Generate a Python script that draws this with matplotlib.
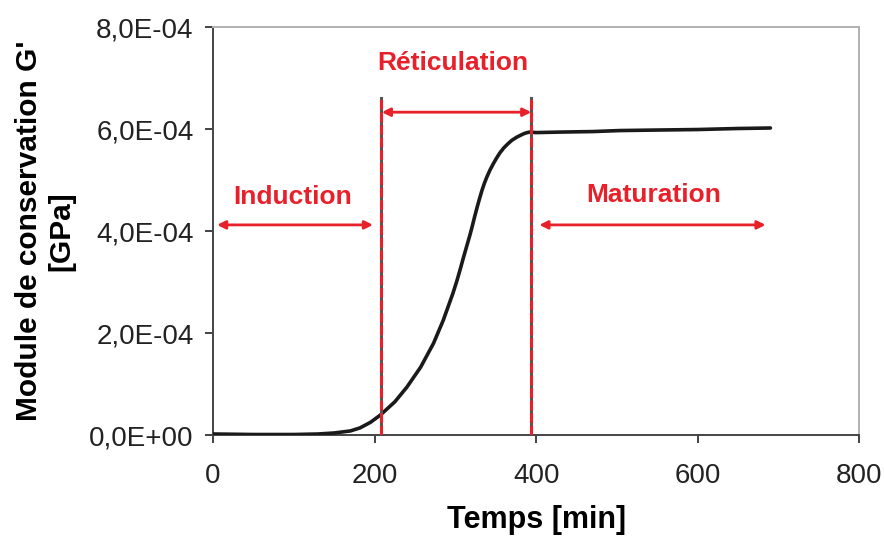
import matplotlib
matplotlib.use("Agg")
import matplotlib.pyplot as plt
import numpy as np

# Data
temps = [0, 50, 100, 130, 150, 170, 182, 195, 207, 225, 240, 257, 273, 285, 297, 302, 306, 310, 314, 318, 321, 324, 327, 330, 333, 336, 339, 343, 347, 351, 355, 360, 365, 370, 376, 381, 385, 389, 392, 400, 430, 470, 504, 550, 600, 650, 690]
module = [0.02e-4, 0.01e-4, 0.01e-4, 0.02e-4, 0.04e-4, 0.08e-4, 0.14e-4, 0.25e-4, 0.39e-4, 0.65e-4, 0.94e-4, 1.33e-4, 1.80e-4, 2.25e-4, 2.78e-4, 3.03e-4, 3.25e-4, 3.48e-4, 3.70e-4, 3.92e-4, 4.10e-4, 4.29e-4, 4.47e-4, 4.64e-4, 4.80e-4, 4.94e-4, 5.06e-4, 5.20e-4, 5.32e-4, 5.43e-4, 5.53e-4, 5.63e-4, 5.71e-4, 5.78e-4, 5.84e-4, 5.88e-4, 5.91e-4, 5.93e-4, 5.94e-4, 5.93e-4, 5.94e-4, 5.95e-4, 5.97e-4, 5.98e-4, 5.99e-4, 6.01e-4, 6.02e-4]

phase_bounds = [208, 394]
phase_top = 6.6e-4
phases = ["Induction", "Réticulation", "Maturation"]
phase_text_x = [98, 297, 545]
phase_text_y = [4.67e-4, 7.29e-4, 4.70e-4]
arrow_x0 = [5, 209, 404]
arrow_x1 = [198, 394, 684]
arrow_y = [4.12e-4, 6.33e-4, 4.12e-4]

xticks = [0, 200, 400, 600, 800]
yticks = [0, 2e-4, 4e-4, 6e-4, 8e-4]
ytick_labels = ["0,0E+00", "2,0E-04", "4,0E-04", "6,0E-04", "8,0E-04"]

plt.rcParams['font.family'] = ['Liberation Sans', 'DejaVu Sans']
red = '#e8202a'

fig = plt.figure(figsize=(8.84, 5.36), dpi=100)
ax = fig.add_axes([0.241, 0.1884, 0.731, 0.7612])

ax.plot(temps, module, color='#1a1a1a', lw=2.6, solid_capstyle='round', solid_joinstyle='round', zorder=3)

for xb in phase_bounds:
    ax.plot([xb, xb], [0, phase_top], color='#555555', lw=2.2, zorder=4)
    ax.plot([xb, xb], [0, phase_top], color=red, lw=2.2, dashes=(3.2, 0.9), zorder=5)

for name, tx, ty, a0, a1, ay in zip(phases, phase_text_x, phase_text_y, arrow_x0, arrow_x1, arrow_y):
    ax.text(tx, ty, name, color=red, fontsize=19, fontweight='bold', ha='center', va='center')
    ax.annotate('', xy=(a1, ay), xytext=(a0, ay),
                arrowprops=dict(arrowstyle='<|-|>', color=red, lw=2, mutation_scale=12,
                                shrinkA=0, shrinkB=0))

ax.set_xlim(0, 800)
ax.set_ylim(0, 8e-4)
ax.set_xticks(xticks)
ax.set_xticklabels([str(v) for v in xticks])
ax.set_yticks(yticks)
ax.set_yticklabels(ytick_labels)
ax.tick_params(axis='both', labelsize=20, direction='out', length=6, width=1.2, colors='#222222', pad=8)
ax.tick_params(axis='x', pad=14)

for s in ['top', 'right']:
    ax.spines[s].set_color('#b0b0b0')
    ax.spines[s].set_linewidth(1.4)
for s in ['left', 'bottom']:
    ax.spines[s].set_color('#444444')
    ax.spines[s].set_linewidth(1.4)

ax.set_xlabel('Temps [min]', fontsize=22, fontweight='bold', labelpad=12)
ax.set_ylabel("Module de conservation G'\n[GPa]", fontsize=21.5, fontweight='bold', labelpad=10, linespacing=1.2)

fig.savefig('out.png', dpi=100)
